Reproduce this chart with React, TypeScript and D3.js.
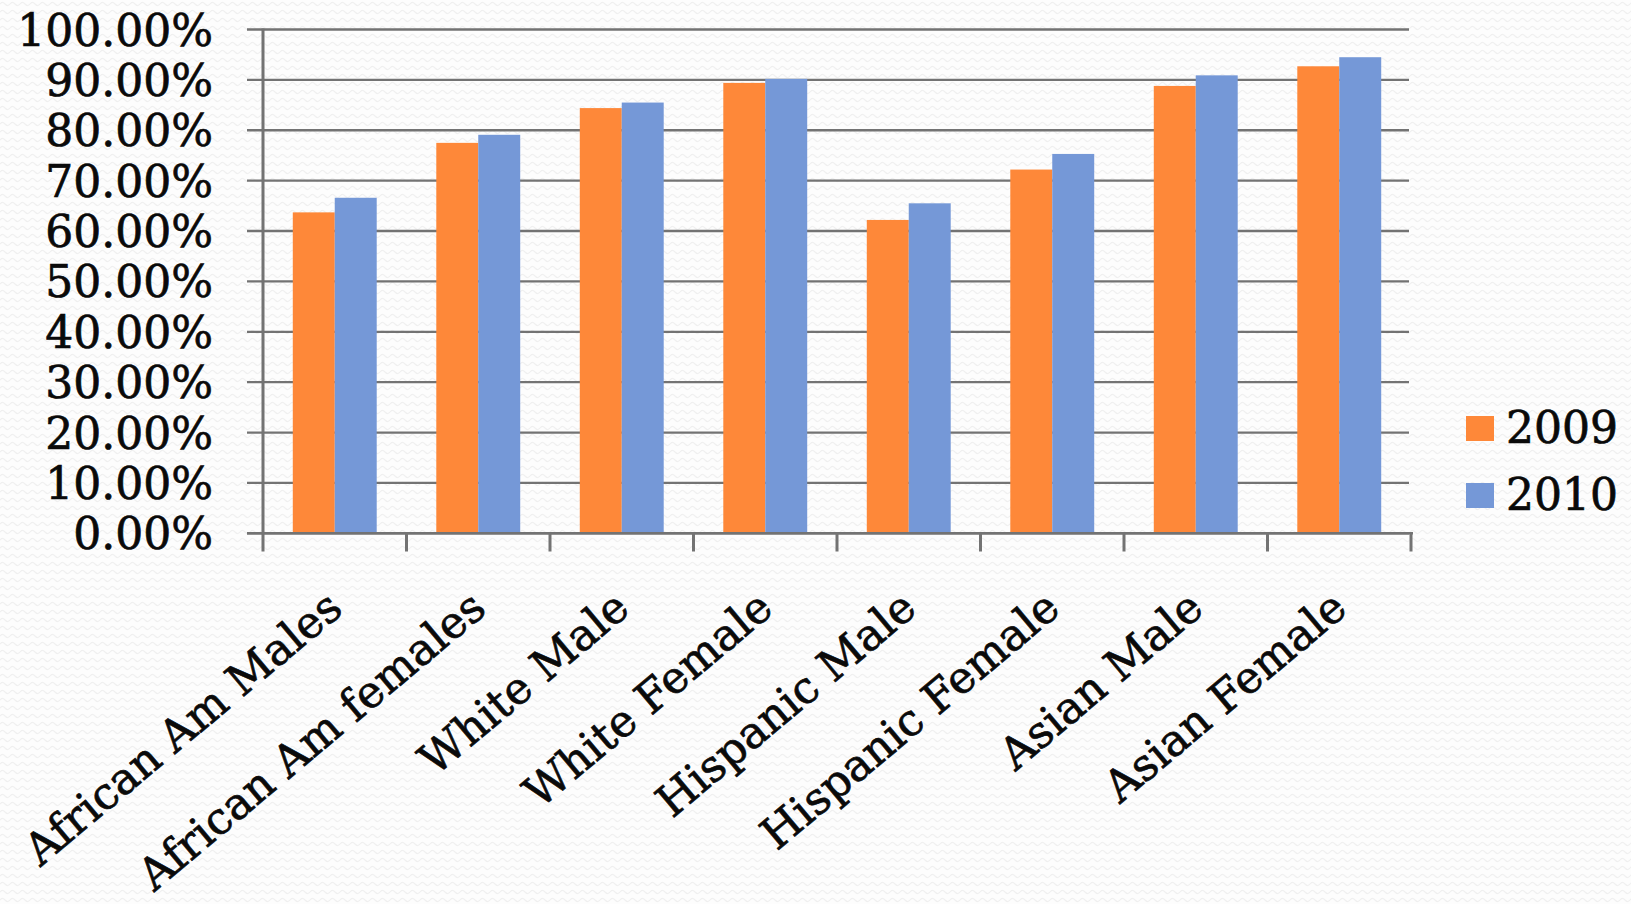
import React from "react";
import * as d3 from "d3";

// Graduation rates by group, two school years
const categories = [
  "African Am Males",
  "African Am females",
  "White Male",
  "White Female",
  "Hispanic Male",
  "Hispanic Female",
  "Asian Male",
  "Asian Female",
];
const seriesNames = ["2009", "2010"];
const values2009 = [0.637, 0.775, 0.844, 0.894, 0.622, 0.722, 0.888, 0.927];
const values2010 = [0.666, 0.791, 0.855, 0.902, 0.655, 0.753, 0.909, 0.945];
const yTicks = [0, 0.1, 0.2, 0.3, 0.4, 0.5, 0.6, 0.7, 0.8, 0.9, 1.0];
const seriesColors = ["#FE8839", "#7598D7"];

const W = 1631;
const H = 904;
const FONT = "'DejaVu Serif', serif";
const textStyle = {
  fontFamily: FONT,
  fontSize: 44,
  fill: "#0a0a0a",
  stroke: "#0a0a0a",
  strokeWidth: 0.7,
};

export default function App() {
  const plotLeft = 263;
  const plotRight = 1411;
  const y = d3.scaleLinear().domain([0, 1]).range([533.3, 29.5]);
  const x = d3.scaleBand<string>().domain(categories).range([plotLeft, plotRight]).padding(0);
  const xSub = d3
    .scaleBand<string>()
    .domain(seriesNames)
    .range([0, x.bandwidth()])
    .paddingInner(0)
    .paddingOuter(0.71);
  const fmt = d3.format(".2%");
  const seriesValues = [values2009, values2010];
  const gridColor = "#737373";

  // faint wavy background texture
  const wave = d3
    .line<[number, number]>()
    .curve(d3.curveBasis)([
    [0, 4],
    [2.5, 1.5],
    [5, 4],
    [7.5, 6.5],
    [10, 4],
  ]);

  return (
    <svg
      width={W}
      height={H}
      style={{ position: "absolute", left: 0, top: 0, background: "#ffffff" }}
    >
      <defs>
        <pattern id="bgWave" width={10} height={8} patternUnits="userSpaceOnUse">
          <path d={wave || ""} fill="none" stroke="#f0f0f0" strokeWidth={1.2} />
        </pattern>
      </defs>
      <rect x={0} y={0} width={W} height={H} fill="#fdfdfd" />
      <rect x={0} y={0} width={W} height={H} fill="url(#bgWave)" />

      {/* horizontal gridlines with outside tick marks */}
      {yTicks.map((t) => (
        <line
          key={"g" + t}
          x1={247}
          x2={plotRight - 2}
          y1={y(t)}
          y2={y(t)}
          stroke={gridColor}
          strokeWidth={2.3}
        />
      ))}

      {/* bars */}
      {seriesNames.map((s, si) =>
        categories.map((c, ci) => (
          <rect
            key={s + c}
            x={(x(c) as number) + (xSub(s) as number)}
            y={y(seriesValues[si][ci])}
            width={xSub.bandwidth()}
            height={y(0) - y(seriesValues[si][ci])}
            fill={seriesColors[si]}
          />
        ))
      )}

      {/* value axis line */}
      <line x1={plotLeft} x2={plotLeft} y1={y(1) - 1} y2={551.5} stroke={gridColor} strokeWidth={3} />
      {/* category axis line and ticks */}
      <line x1={247} x2={plotRight + 2} y1={y(0)} y2={y(0)} stroke={gridColor} strokeWidth={2.6} />
      {categories.map((c) => (
        <line
          key={"t" + c}
          x1={(x(c) as number) + x.bandwidth()}
          x2={(x(c) as number) + x.bandwidth()}
          y1={y(0)}
          y2={551.5}
          stroke={gridColor}
          strokeWidth={3}
        />
      ))}

      {/* value axis labels */}
      {yTicks.map((t) => (
        <text key={"l" + t} x={213} y={y(t) + 16} textAnchor="end" style={textStyle}>
          {fmt(t)}
        </text>
      ))}

      {/* category labels */}
      {categories.map((c) => {
        const cx = (x(c) as number) + x.bandwidth() / 2 + 10;
        return (
          <text
            key={"c" + c}
            transform={`translate(${cx},612) rotate(-40)`}
            textAnchor="end"
            style={textStyle}
          >
            {c}
          </text>
        );
      })}

      {/* legend */}
      {seriesNames.map((s, i) => (
        <g key={"lg" + s} transform={`translate(1466,${416 + i * 67})`}>
          <rect x={0} y={0} width={28} height={25} fill={seriesColors[i]} />
          <text x={40} y={27} style={textStyle}>
            {s}
          </text>
        </g>
      ))}
    </svg>
  );
}
